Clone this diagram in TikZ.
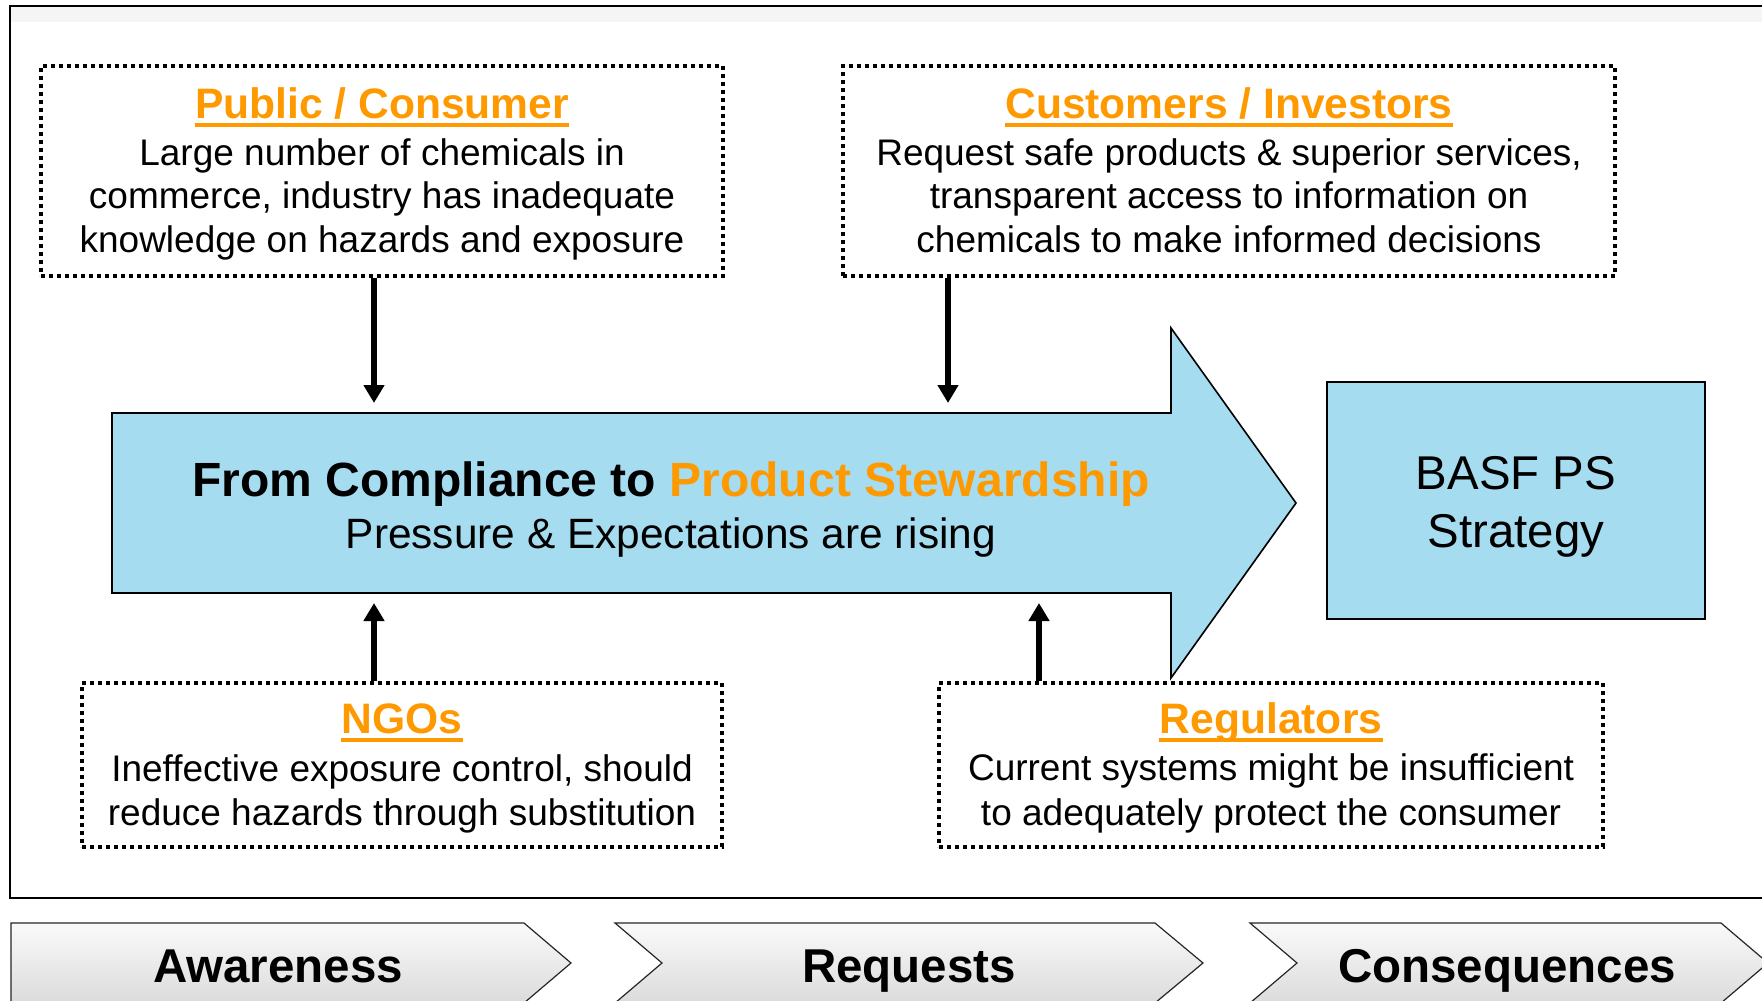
\documentclass[tikz,border=0pt]{standalone}
\usepackage{fontspec}
\setmainfont{Liberation Sans}
\usetikzlibrary{arrows.meta,fit}
\definecolor{psorange}{RGB}{255,153,0}
\definecolor{psblue}{RGB}{165,220,240}
\definecolor{bandgray}{RGB}{245,245,245}
\begin{document}
\begin{tikzpicture}[x=0.5pt,y=-0.5pt,
  dbox/.style={draw, line width=1.9pt, dash pattern=on 1.9pt off 2.1pt, inner sep=0pt},
  ttl/.style={anchor=base, inner sep=0pt, text=psorange, font=\bfseries\fontsize{21.3}{25}\selectfont},
  bod/.style={anchor=base, inner sep=0pt, font=\fontsize{18.5}{22}\selectfont},
  uline/.style={psorange, line width=1.6pt},
  conn/.style={line width=2.6pt, -{Triangle[length=9pt,width=10pt]}},
  chev/.style={draw=black!85, line width=0.6pt, top color=black!2, bottom color=black!14},
  chevtxt/.style={anchor=base, inner sep=0pt, font=\bfseries\fontsize{23.75}{28}\selectfont},
  bluebox/.style={draw, line width=0.8pt, fill=psblue, inner sep=0pt}]
\useasboundingbox (0,0) rectangle (1762,1001);
\fill[white] (0,0) rectangle (1762,1001);
% outer frame
\fill[bandgray] (11,7) rectangle (1800,22);
\draw[line width=1.2pt] (1800,898) -- (10,898) -- (10,6) -- (1800,6);

% dotted boxes
\node[dbox, fit={(41,66) (723,276)}] (pc) {};
\node[dbox, fit={(843,66) (1615,276)}] (ci) {};
\node[dbox, fit={(82,683) (722,847)}] (ngo) {};
\node[dbox, fit={(939,683) (1603,847)}] (reg) {};

% Public / Consumer
\node[ttl] (pct) at (382,118) {Public / Consumer};
\draw[uline] ([yshift=-3.5pt]pct.base west) -- ([yshift=-3.5pt]pct.base east);
\node[bod] (pc1) at (382,165) {Large number of chemicals in};
\node[bod] (pc2) at (382,208) {commerce, industry has inadequate};
\node[bod] (pc3) at (382,252) {knowledge on hazards and exposure};

% Customers / Investors
\node[ttl] (cit) at (1229,118) {Customers / Investors};
\draw[uline] ([yshift=-3.5pt]cit.base west) -- ([yshift=-3.5pt]cit.base east);
\node[bod] (ci1) at (1229,165) {Request safe products \& superior services,};
\node[bod] (ci2) at (1229,208) {transparent access to information on};
\node[bod] (ci3) at (1229,252) {chemicals to make informed decisions};

% NGOs
\node[ttl] (ngt) at (402,733) {NGOs};
\draw[uline] ([yshift=-3.5pt]ngt.base west) -- ([yshift=-3.5pt]ngt.base east);
\node[bod] (ng1) at (402,781) {Ineffective exposure control, should};
\node[bod] (ng2) at (402,825) {reduce hazards through substitution};

% Regulators
\node[ttl] (rgt) at (1271,733) {Regulators};
\draw[uline] ([yshift=-3.5pt]rgt.base west) -- ([yshift=-3.5pt]rgt.base east);
\node[bod] (rg1) at (1271,780) {Current systems might be insufficient};
\node[bod] (rg2) at (1271,825) {to adequately protect the consumer};

% big arrow
\draw[fill=psblue, line width=0.8pt] (112,413) -- (1171,413) -- (1171,328) -- (1296,503)
  -- (1171,678) -- (1171,593) -- (112,593) -- cycle;
\node[anchor=base, inner sep=0pt, font=\bfseries\fontsize{24}{28}\selectfont] (hd1) at (671,496)
  {From Compliance to \textcolor{psorange}{Product Stewardship}};
\node[anchor=base, inner sep=0pt, font=\fontsize{21.2}{25}\selectfont] (hd2) at (671,548)
  {Pressure \& Expectations are rising};

% BASF PS Strategy
\node[bluebox, fit={(1327,382) (1705,619)}] (basf) {};
\node[anchor=base, inner sep=0pt, font=\fontsize{23.7}{28}\selectfont] (bs1) at (1516,489) {BASF PS};
\node[anchor=base, inner sep=0pt, font=\fontsize{23.7}{28}\selectfont] (bs2) at (1516,547) {Strategy};

% connectors
\coordinate (t1) at (374,403);
\coordinate (t2) at (948,403);
\coordinate (b1) at (374,603);
\coordinate (b2) at (1039,603);
\draw[conn] (pc.south -| t1) -- (t1);
\draw[conn] (ci.south -| t2) -- (t2);
\draw[conn] (ngo.north -| b1) -- (b1);
\draw[conn] (reg.north -| b2) -- (b2);

% chevrons
\draw[chev] (11,923) -- (524,923) -- (571,963) -- (524,1003) -- (11,1003) -- cycle;
\draw[chev] (615,923) -- (1155,923) -- (1203,963) -- (1155,1003) -- (615,1003) -- (662,963) -- cycle;
\draw[chev] (1250,923) -- (1721,923) -- (1768,963) -- (1721,1003) -- (1250,1003) -- (1297,963) -- cycle;
\node[chevtxt] (c1) at (278,982) {Awareness};
\node[chevtxt] (c2) at (909,982) {Requests};
\node[chevtxt] (c3) at (1507,982) {Consequences};
\end{tikzpicture}
\end{document}
